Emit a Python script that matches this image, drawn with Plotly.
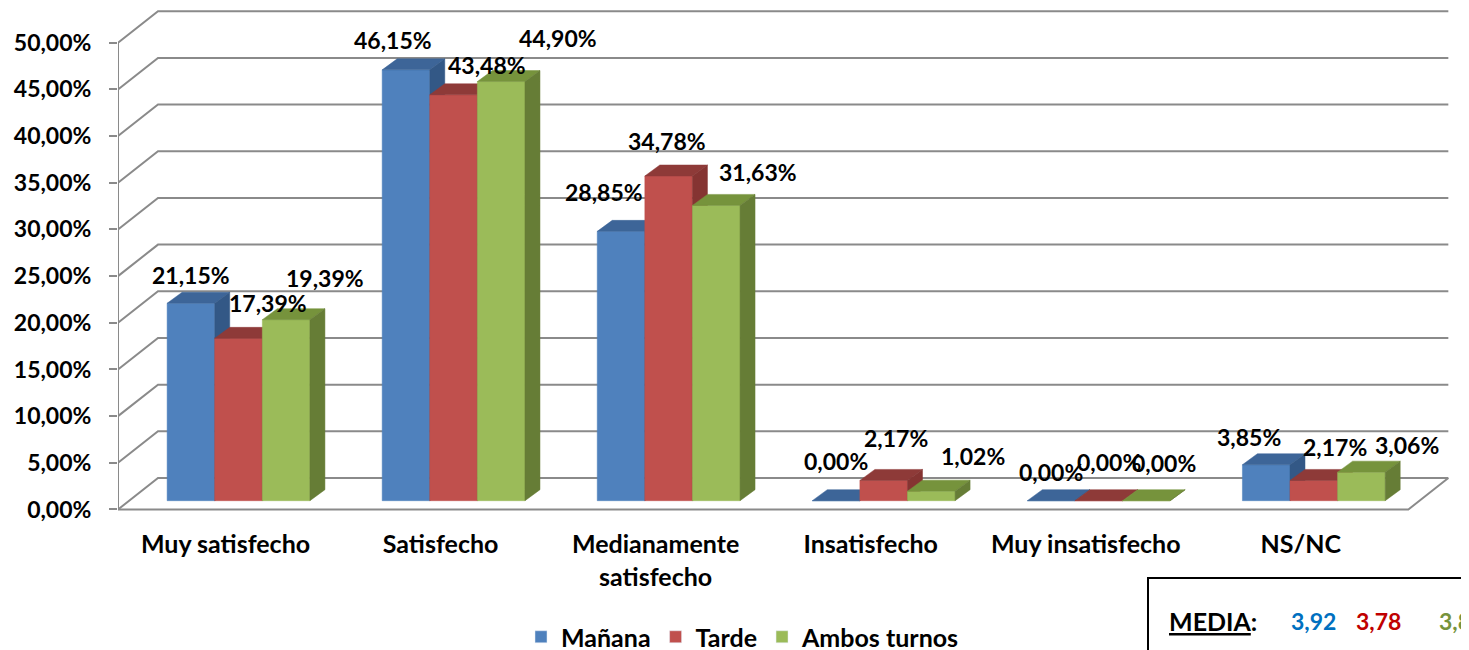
import plotly.graph_objects as go

# --- data ---
categories = ["Muy satisfecho", "Satisfecho", "Medianamente<br>satisfecho",
              "Insatisfecho", "Muy insatisfecho", "NS/NC"]
series_names = ["Mañana", "Tarde", "Ambos turnos"]
manana = [21.15, 46.15, 28.85, 0.00, 0.00, 3.85]
tarde = [17.39, 43.48, 34.78, 2.17, 0.00, 2.17]
ambos = [19.39, 44.90, 31.63, 1.02, 0.00, 3.06]
y_ticks = [0, 5, 10, 15, 20, 25, 30, 35, 40, 45, 50]
media_label = "MEDIA"
media_values = ["3,92", "3,78", "3,8"]

# label nudges (pixels) relative to the top of each bar's front face
label_dx = [[0, -13, -17, 0, 0, -17],
            [29, 33, -2, 12, 10, 21],
            [39, 57, 42, 42, 18, 46]]
label_dy = [[-28, -30, -39, -40, -29, -28],
            [-35, -30, -35, -42, -39, -33],
            [-42, -44, -33, -35, -38, -27]]

front_cols = ["#4F81BD", "#C0504D", "#9BBB59"]
top_cols = ["#3D6598", "#8E3A38", "#76933C"]
side_cols = ["#335886", "#853432", "#667D36"]
media_cols = ["#0070C0", "#C00000", "#77933C"]
grid_col = "#8A8A8A"
FONT = "Lato, 'Open Sans', sans-serif"
NUM_SIZE = 23
TXT_SIZE = 25

PAGE = 8  # default body margin of the html page
W, H = 1469 - PAGE, 650 - PAGE
L, R, T, B = 110, 14, 0, 135
XR = [-0.5, 5.717]
YR = [-0.59, 53.72]
px_x = (W - L - R) / (XR[1] - XR[0])   # pixels per category unit
px_y = (H - T - B) / (YR[1] - YR[0])   # pixels per percent

# 3D geometry (in data units)
WDX, WDY = 40 / px_x, 31.5 / px_y        # wall depth
BX, BY = 13 / px_x, 8.8 / px_y           # bar offset into the floor
BW = 47.6 / px_x                         # bar width
DX, DY = 15 / px_x, 11 / px_y            # bar depth
X_LEFT, X_RIGHT = XR[0], 5.5

fig = go.Figure()

# walls / gridlines
gx, gy = [], []
for v in y_ticks:
    gx += [X_LEFT, X_LEFT + WDX, X_RIGHT + WDX, None]
    gy += [v, v + WDY, v + WDY, None]
gx += [X_LEFT, X_LEFT, None, X_LEFT, X_RIGHT, X_RIGHT + WDX]
gy += [0, y_ticks[-1], None, 0, 0, WDY]
fig.add_trace(go.Scatter(x=gx, y=gy, mode="lines", line=dict(color=grid_col, width=2),
                         hoverinfo="skip", showlegend=False))

# bars: front, top, side faces per series
for j, vals in enumerate([manana, tarde, ambos]):
    faces = {"front": ([], []), "top": ([], []), "side": ([], [])}
    for i, v in enumerate(vals):
        x0 = i + BX - 1.5 * BW + j * BW
        x1 = x0 + BW
        y0, y1 = BY, BY + v
        fx, fy = faces["front"]
        fx += [x0, x1, x1, x0, x0, None]
        fy += [y0, y0, y1, y1, y0, None]
        tx, ty = faces["top"]
        tx += [x0, x1, x1 + DX, x0 + DX, x0, None]
        ty += [y1, y1, y1 + DY, y1 + DY, y1, None]
        sx, sy = faces["side"]
        sx += [x1, x1 + DX, x1 + DX, x1, x1, None]
        sy += [y0, y0 + DY, y1 + DY, y1, y0, None]
    for face, col in [("front", front_cols[j]), ("top", top_cols[j]), ("side", side_cols[j])]:
        xs, ys = faces[face]
        fig.add_trace(go.Scatter(x=xs, y=ys, mode="lines", fill="toself", fillcolor=col,
                                 line=dict(color=col, width=0.5), hoverinfo="skip",
                                 showlegend=False))
    # legend entry
    fig.add_trace(go.Bar(x=[None], y=[None], name=series_names[j],
                         marker_color=front_cols[j], showlegend=True))
    # data labels
    for i, v in enumerate(vals):
        xc = i + BX - 1.5 * BW + (j + 0.5) * BW
        fig.add_annotation(x=xc, y=BY + v, text=f"{v:.2f}%".replace(".", ","),
                           showarrow=False, xanchor="center", yanchor="middle",
                           xshift=label_dx[j][i], yshift=-label_dy[j][i],
                           font=dict(size=NUM_SIZE, color="black", family=FONT, weight=700))


def paper_x(p):
    return (p - PAGE - L) / (W - L - R)


def paper_y(p):
    return (H - B - (p - PAGE)) / (H - T - B)


# MEDIA box
fig.add_shape(type="rect", xref="paper", yref="paper",
              x0=paper_x(1148), x1=paper_x(1480), y0=paper_y(665), y1=paper_y(578),
              line=dict(color="black", width=2), fillcolor="rgba(0,0,0,0)")
fig.add_annotation(xref="paper", yref="paper", x=paper_x(1167), y=paper_y(621),
                   text=f"<u>{media_label}</u>:", showarrow=False, xanchor="left",
                   yanchor="middle", font=dict(size=TXT_SIZE, color="black", family=FONT, weight=700))
for k, (txt, px0) in enumerate(zip(media_values, [1289, 1354, 1437])):
    fig.add_annotation(xref="paper", yref="paper", x=paper_x(px0), y=paper_y(621),
                       text=txt, showarrow=False, xanchor="left", yanchor="middle",
                       font=dict(size=NUM_SIZE, color=media_cols[k], family=FONT, weight=700))

y_text = [f"{v:.2f}%".replace(".", ",") for v in y_ticks]

fig.update_layout(
    width=W, height=H,
    margin=dict(l=L, r=R, t=T, b=B, autoexpand=False),
    plot_bgcolor="white", paper_bgcolor="white",
    separators=",.",
    font=dict(family=FONT, size=TXT_SIZE, color="black", weight=700),
    showlegend=True,
    legend=dict(orientation="h", x=paper_x(743), xanchor="center",
                y=paper_y(637), yanchor="middle", font=dict(size=TXT_SIZE),
                itemwidth=30, tracegroupgap=0),
    xaxis=dict(range=XR, tickvals=list(range(len(categories))), ticktext=categories,
               showgrid=False, zeroline=False, showline=False, ticks="",
               tickfont=dict(size=TXT_SIZE), ticklabelstandoff=12, fixedrange=True),
    yaxis=dict(range=YR, tickvals=y_ticks, ticktext=y_text,
               showgrid=False, zeroline=False, showline=False, ticks="outside",
               ticklen=8, tickwidth=2, tickcolor=grid_col, ticklabelstandoff=13,
               tickfont=dict(size=NUM_SIZE), fixedrange=True),
)

fig.write_html("out.html")
